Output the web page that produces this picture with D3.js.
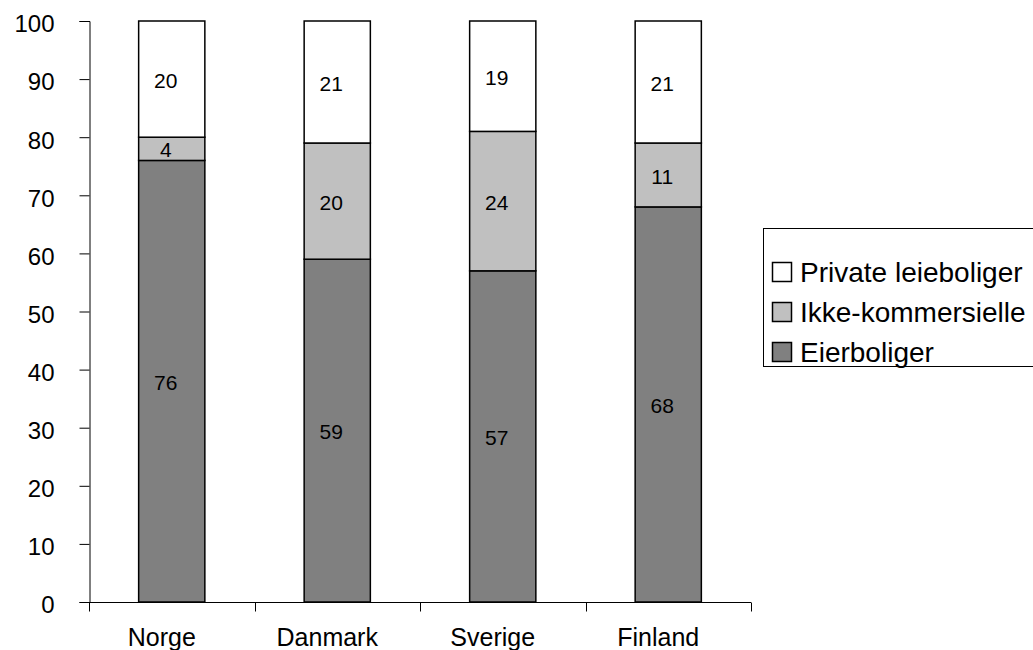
<!DOCTYPE html>
<html>
<head>
<meta charset="utf-8">
<script src="https://cdn.jsdelivr.net/npm/d3@7/dist/d3.min.js"></script>
<style>
  html, body { margin: 0; padding: 0; background: #fff; }
  svg { display: block; font-family: "Liberation Sans", Arial, sans-serif; }
</style>
</head>
<body>
<svg id="chart" width="1033" height="650"></svg>
<script>
// Housing tenure shares (%) by country
const countries = ["Norge", "Danmark", "Sverige", "Finland"];
const seriesNames = ["Eierboliger", "Ikke-kommersielle", "Private leieboliger"];
const eierboliger = [76, 59, 57, 68];
const ikkeKommersielle = [4, 20, 24, 11];
const privateLeieboliger = [20, 21, 19, 21];
const yTicks = [0, 10, 20, 30, 40, 50, 60, 70, 80, 90, 100];
const colors = ["#808080", "#c0c0c0", "#ffffff"];

const seriesValues = [eierboliger, ikkeKommersielle, privateLeieboliger];
const rows = countries.map((c, i) => {
  const r = { country: c };
  seriesNames.forEach((s, k) => { r[s] = seriesValues[k][i]; });
  return r;
});

const svg = d3.select("#chart");
const x0 = 89, x1 = 751, yBottom = 602, yTop = 21;

const x = d3.scaleBand().domain(countries).range([x0, x1])
  .paddingInner(0.6).paddingOuter(0.3);
const y = d3.scaleLinear().domain([0, 100]).range([yBottom, yTop]);

const stacked = d3.stack().keys(seriesNames)(rows);

// Bars
const layers = svg.append("g").selectAll("g").data(stacked).join("g")
  .attr("fill", (d, i) => colors[i]);
layers.selectAll("rect").data(d => d).join("rect")
  .attr("x", d => x(d.data.country))
  .attr("y", d => y(d[1]))
  .attr("width", x.bandwidth())
  .attr("height", d => y(d[0]) - y(d[1]))
  .attr("stroke", "#000")
  .attr("stroke-width", 1.5);

// Value labels
layers.selectAll("text").data(d => d.map(v => ({ v, key: d.key }))).join("text")
  .attr("x", d => x(d.v.data.country) + x.bandwidth() / 2 - 6)
  .attr("y", d => (y(d.v[0]) + y(d.v[1])) / 2 + 3)
  .attr("text-anchor", "middle")
  .attr("dominant-baseline", "middle")
  .attr("font-size", 21)
  .attr("fill", "#000")
  .text(d => d.v.data[d.key]);

// Y axis
const yAxis = d3.axisLeft(y).tickValues(yTicks).tickSize(10).tickPadding(25);
const gy = svg.append("g").attr("transform", `translate(${x0 + 0.5},0)`).call(yAxis);
gy.select(".domain").attr("stroke", "#000");
gy.selectAll(".tick line").attr("stroke", "#000");
gy.selectAll(".tick text").attr("font-size", 24).attr("fill", "#000")
  .attr("font-family", "Liberation Sans, Arial, sans-serif").attr("dy", "0.45em");

// X axis: ticks at band boundaries, labels under bars
const gx = svg.append("g").attr("transform", `translate(0,${yBottom + 0.5})`);
gx.append("line").attr("x1", x0).attr("x2", x1).attr("stroke", "#000");
const boundaries = countries.map(c => x(c) - x.step() * x.paddingInner() / 2)
  .map((b, i) => i === 0 ? x0 : b).concat([x1]);
gx.selectAll("line.tk").data(boundaries).join("line").attr("class", "tk")
  .attr("x1", d => Math.round(d) + 0.5).attr("x2", d => Math.round(d) + 0.5)
  .attr("y1", 0).attr("y2", 9).attr("stroke", "#000");
gx.selectAll("text").data(countries).join("text")
  .attr("x", d => x(d) + x.bandwidth() / 2 - 10)
  .attr("y", 43.5)
  .attr("text-anchor", "middle")
  .attr("font-size", 25)
  .attr("fill", "#000")
  .text(d => d);

// Legend
const legendOrder = seriesNames.map((s, i) => ({ s, c: colors[i] })).reverse();
const lg = svg.append("g");
lg.append("rect").attr("x", 763.5).attr("y", 228.5).attr("width", 300).attr("height", 138)
  .attr("fill", "#fff").attr("stroke", "#000").attr("stroke-width", 1);
const items = lg.selectAll("g.item").data(legendOrder).join("g").attr("class", "item")
  .attr("transform", (d, i) => `translate(772,${262 + i * 40})`);
items.append("rect").attr("x", 0.5).attr("y", 0.5).attr("width", 19).attr("height", 19)
  .attr("fill", d => d.c).attr("stroke", "#000").attr("stroke-width", 1.5);
items.append("text").attr("x", 28).attr("y", 20)
  .attr("font-size", 28).attr("fill", "#000").text(d => d.s);
</script>
</body>
</html>
